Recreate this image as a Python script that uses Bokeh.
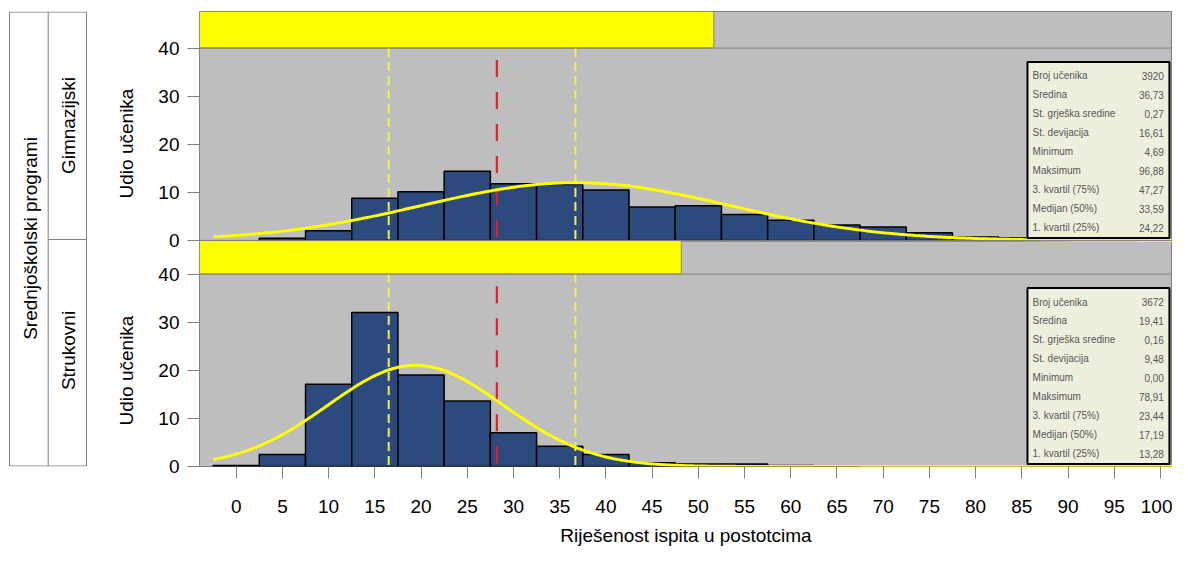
import numpy as np
from bokeh.plotting import figure
from bokeh.layouts import row
from bokeh.models import Range1d, FixedTicker, Span
from bokeh.core.properties import value
from bokeh.embed import file_html
from bokeh.resources import INLINE

# ---------------- data ----------------
bin_centers = [0, 5, 10, 15, 20, 25, 30, 35, 40, 45, 50, 55, 60, 65, 70, 75, 80, 85, 90, 95, 100]
udio_gimnazijski = [0.0, 0.45, 2.0, 8.75, 10.1, 14.4, 11.8, 11.65, 10.5, 6.95, 7.2, 5.4,
                    4.2, 3.2, 2.8, 1.6, 0.7, 0.5, 0.4, 0.1, 0.0]
udio_strukovni = [0.2, 2.5, 17.1, 32.0, 19.0, 13.6, 7.0, 4.2, 2.5, 0.8, 0.5, 0.5,
                  0.2, 0.05, 0.0, 0.0, 0.0, 0.0, 0.0, 0.0, 0.0]

stat_labels = ["Broj učenika", "Sredina", "St. grješka sredine", "St. devijacija", "Minimum",
               "Maksimum", "3. kvartil (75%)", "Medijan (50%)", "1. kvartil (25%)"]
stat_gimnazijski = ["3920", "36,73", "0,27", "16,61", "4,69", "96,88", "47,27", "33,59", "24,22"]
stat_strukovni = ["3672", "19,41", "0,16", "9,48", "0,00", "78,91", "23,44", "17,19", "13,28"]

n_gimnazijski = 3920
n_strukovni = 3672
mean_gimnazijski, sd_gimnazijski = 36.73, 16.61
mean_strukovni, sd_strukovni = 19.41, 9.48

granice_zute = [16.5, 36.7]
granica_crvena = [28.2]

x_ticks = list(range(0, 101, 5))
y_ticks = [0, 10, 20, 30, 40]

row_label = "Srednjoškolski programi"
panel_labels = ["Gimnazijski", "Strukovni"]
y_title = "Udio učenika"
x_title = "Riješenost ispita u postotcima"

# ---------------- style / layout ----------------
FONT = "Liberation Sans"
BIN_W = 5
XMIN, XMAX = -3.97, 101.3       # visible x range of the panels
X_STRIP_END = 103.8             # nominal right end of the strips
PANEL_H = 40                    # height of a panel in y units
STRIP_H = 7.6                   # strip height in y units
OFF_TOP = 47.0                  # y offset of the upper panel (below it: lower panel + strip)
YMAX = OFF_TOP + PANEL_H + STRIP_H
BG = "#BEBEBE"
BAR = "#2C4A7E"
YEL = "#FFFF00"
FS = "19px"
H = 550
MB_TOP, MB_BOTTOM = 11, 84

total_n = n_gimnazijski + n_strukovni

p = figure(width=1032, height=H, x_range=Range1d(XMIN, XMAX), y_range=Range1d(0, YMAX),
           output_backend="svg", toolbar_location=None,
           min_border_left=59, min_border_right=0,
           min_border_top=MB_TOP, min_border_bottom=MB_BOTTOM,
           background_fill_color=BG, border_fill_color="white",
           outline_line_color="#808080", outline_line_width=1)
p.grid.visible = False

BOX_L, BOX_R = 85.61, 100.97


def draw_panel(base, strip_top, udio, mean, sd, n, stats):
    # strip with the share of students
    frac = n / total_n
    p.quad(left=[XMIN], right=[XMIN + frac * (X_STRIP_END - XMIN)],
           bottom=[base + PANEL_H], top=[strip_top],
           fill_color=YEL, line_color="#8E8E3A", line_width=1)
    p.add_layout(Span(location=base + PANEL_H, dimension="width",
                      line_color="#808080", line_width=1))
    p.add_layout(Span(location=strip_top, dimension="width",
                      line_color="#808080", line_width=1))

    # histogram
    c = np.array(bin_centers, dtype=float)
    u = np.array(udio, dtype=float)
    m = u > 0
    p.quad(left=c[m] - BIN_W / 2, right=c[m] + BIN_W / 2, bottom=base, top=base + u[m],
           fill_color=BAR, line_color="black", line_width=1.5)

    # reference lines
    p.segment(x0=granice_zute, y0=base + PANEL_H, x1=granice_zute, y1=base,
              line_color="#F2EE55", line_width=2, line_dash="9 5")
    p.segment(x0=granica_crvena, y0=base + 37.5, x1=granica_crvena, y1=base,
              line_color="#E0202A", line_width=2.2, line_dash="17 15")

    # fitted normal curve (from mean and st. deviation)
    xs = np.arange(-2.5, 102.51, 0.25)
    ys = 100 * BIN_W * np.exp(-0.5 * ((xs - mean) / sd) ** 2) / (sd * np.sqrt(2 * np.pi))
    p.line(xs, base + ys, line_color=YEL, line_width=3)

    # statistics box
    p.quad(left=[BOX_L], right=[BOX_R], bottom=[base + 0.5], top=[base + 37.1],
           fill_color="#EFEFDF", line_color="black", line_width=2)
    ry = [base + 34.2 - i * 3.94 for i in range(len(stat_labels))]
    p.text(x=[BOX_L + 0.55] * len(ry), y=ry, text=stat_labels, text_align="left",
           text_baseline="middle", text_font=value(FONT), text_font_size="10px",
           text_color="#555555")
    p.text(x=[BOX_R - 0.6] * len(ry), y=ry, text=stats, text_align="right",
           text_baseline="middle", text_font=value(FONT), text_font_size="10px",
           text_color="#555555")


draw_panel(OFF_TOP, YMAX, udio_gimnazijski, mean_gimnazijski, sd_gimnazijski,
           n_gimnazijski, stat_gimnazijski)
draw_panel(0, OFF_TOP, udio_strukovni, mean_strukovni, sd_strukovni,
           n_strukovni, stat_strukovni)

# y axis: the same 0..40 scale for both panels
ya = p.yaxis[0]
ticks_all = y_ticks + [OFF_TOP + t for t in y_ticks]
ya.ticker = FixedTicker(ticks=ticks_all)
ya.major_label_overrides = {OFF_TOP + t: str(t) for t in y_ticks}
ya.major_label_text_font = FONT
ya.major_label_text_font_size = FS
ya.major_label_text_color = "black"
ya.major_label_standoff = 8
ya.major_tick_out = 12
ya.major_tick_in = 0
ya.major_tick_line_color = "#808080"
ya.minor_tick_line_color = None
ya.axis_line_color = None

xa = p.xaxis[0]
xa.ticker = FixedTicker(ticks=x_ticks)
xa.axis_label = x_title
xa.axis_label_text_font = FONT
xa.axis_label_text_font_size = FS
xa.axis_label_text_font_style = "normal"
xa.axis_label_text_color = "black"
xa.axis_label_standoff = 9
xa.major_label_text_font = FONT
xa.major_label_text_font_size = FS
xa.major_label_text_color = "black"
xa.major_label_standoff = 21
xa.major_tick_out = 12
xa.major_tick_in = 0
xa.major_tick_line_color = "#808080"
xa.minor_tick_line_color = None
xa.axis_line_color = None

# left table with group labels and the y titles
# (its frame spans the same canvas rows as the panels' frame: y = H - pixel row)
t = figure(width=140, height=H, x_range=Range1d(0, 140),
           y_range=Range1d(H - (H - MB_BOTTOM), H - MB_TOP),
           output_backend="svg", toolbar_location=None,
           min_border_left=0, min_border_right=0,
           min_border_top=MB_TOP, min_border_bottom=MB_BOTTOM,
           outline_line_color=None, x_axis_location=None, y_axis_location=None,
           border_fill_color="white", background_fill_color="white")
t.grid.visible = False
t.quad(left=[9], right=[86], top=[H - 11.5], bottom=[H - 465.5], fill_color=None,
       line_color="#808080", line_width=1)
t.segment(x0=[47.7, 47.7], y0=[H - 11.5, H - 239], x1=[47.7, 86], y1=[H - 465.5, H - 239],
          line_color="#808080", line_width=1)
t.text(x=[29.5, 68.0, 68.0], y=[H - 238, H - 125, H - 350],
       text=[row_label] + panel_labels, angle=np.pi / 2,
       text_align="center", text_baseline="middle",
       text_font=value(FONT), text_font_size=FS, text_color="black")
t.text(x=[125.5, 125.5], y=[H - 143, H - 370], text=[y_title, y_title], angle=np.pi / 2,
       text_align="center", text_baseline="middle",
       text_font=value(FONT), text_font_size=FS, text_color="black")

layout = row(t, p, spacing=0)

open("out.html", "w").write(file_html(layout, INLINE))
